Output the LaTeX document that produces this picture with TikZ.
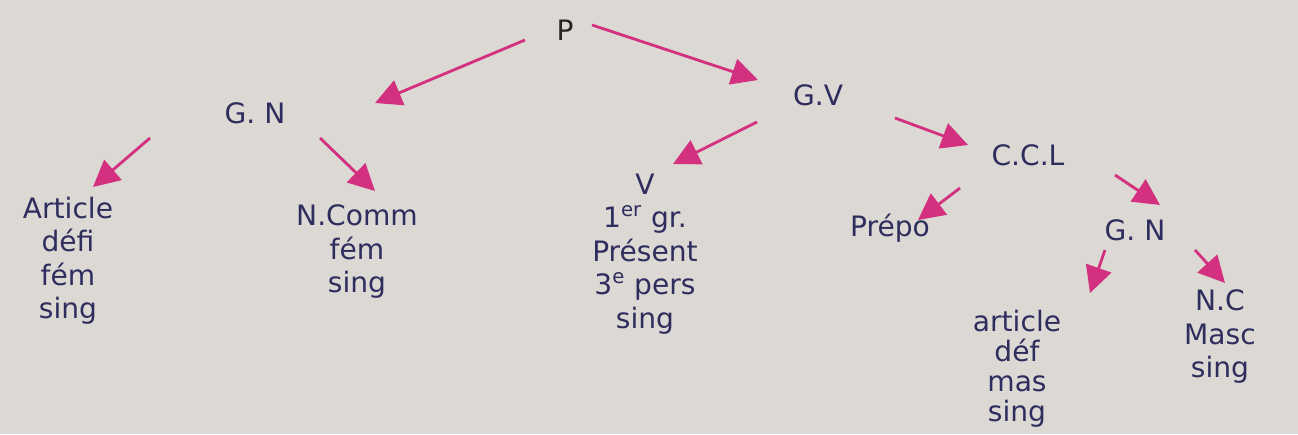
\documentclass[tikz,border=0pt]{standalone}
\usepackage{fontspec}
\setmainfont{DejaVu Sans}
\usetikzlibrary{arrows.meta}
\definecolor{paper}{HTML}{DCD8D4}
\definecolor{ink}{HTML}{2E2D5E}
\definecolor{pinkarrow}{HTML}{D3307F}
\tikzset{
  lbl/.style={text=ink, font=\fontsize{16}{19}\selectfont, inner sep=1pt, align=center},
  leaf/.style={lbl, anchor=north},
  arr/.style={draw=pinkarrow, line width=1.6pt, -{Triangle[length=15pt,width=15pt]}}
}
\begin{document}
\begin{tikzpicture}[x=0.02cm,y=-0.02cm]
\fill[paper] (0,0) rectangle (1298,434);
\useasboundingbox (0,0) rectangle (1298,434);
% internal nodes
\node[lbl, text=black!85] (P) at (565,30) {P};
\node[lbl] (GN1) at (255,113) {G. N};
\node[lbl] (GV) at (818,95) {G.V};
\node[lbl] (CCL) at (1028,155) {C.C.L};
\node[lbl] (GN2) at (1135,230) {G. N};
% leaves
\node[leaf] (Art) at (68,195) {Article\\défi\\fém\\sing};
\node[leaf] (NCo) at (357,203) {N.Comm\\fém\\sing};
\node[leaf] (V) at (645,172) {V\\1\textsuperscript{er} gr.\\Présent\\3\textsuperscript{e} pers\\sing};
\node[lbl] (Prep) at (890,228) {Prépo};
\node[leaf, font=\fontsize{16}{17}\selectfont] (Art2) at (1017,308) {article\\déf\\mas\\sing};
\node[leaf] (NC) at (1220,288) {N.C\\Masc\\sing};
% connectors
\draw[arr] ([shift={(-40,10)}]P.center) -- ([shift={(120,-10)}]GN1.center);
\draw[arr] ([shift={(27,-5)}]P.center) -- ([shift={(-60,-15)}]GV.center);
\draw[arr] ([shift={(-105,25)}]GN1.center) -- ([shift={(25,-8)}]Art.north);
\draw[arr] ([shift={(65,25)}]GN1.center) -- ([shift={(18,-12)}]NCo.north);
\draw[arr] ([shift={(-61,27)}]GV.center) -- ([shift={(28,-8)}]V.north);
\draw[arr] ([shift={(77,23)}]GV.center) -- ([shift={(-60,-10)}]CCL.center);
\draw[arr] ([shift={(-68,33)}]CCL.center) -- ([shift={(28,-8)}]Prep.center);
\draw[arr] ([shift={(87,20)}]CCL.center) -- ([shift={(25,-25)}]GN2.center);
\draw[arr] ([shift={(-30,20)}]GN2.center) -- ([shift={(73,-15)}]Art2.north);
\draw[arr] ([shift={(60,20)}]GN2.center) -- ([shift={(5,-5)}]NC.north);
\end{tikzpicture}
\end{document}
